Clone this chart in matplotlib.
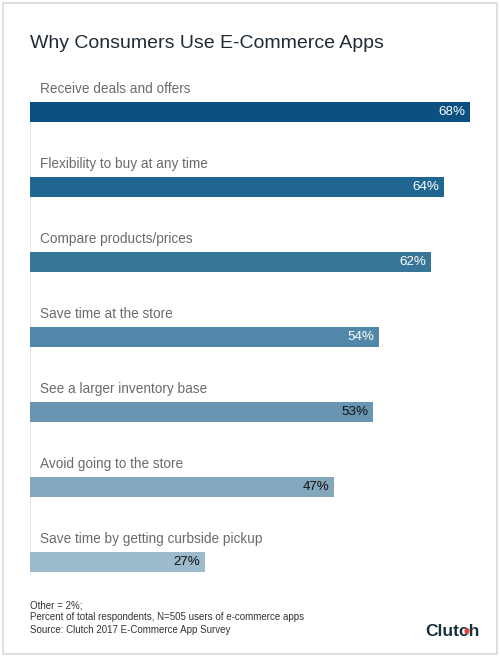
import matplotlib
matplotlib.use("Agg")
import matplotlib.pyplot as plt
from matplotlib.patches import Rectangle, Circle

plt.rcParams['font.family'] = ['Liberation Sans', 'DejaVu Sans']

# data
reasons = ['Receive deals and offers', 'Flexibility to buy at any time',
           'Compare products/prices', 'Save time at the store',
           'See a larger inventory base', 'Avoid going to the store',
           'Save time by getting curbside pickup']
shares = [68, 64, 62, 54, 53, 47, 27]

bar_colors = ['#0a5080', '#1f6690', '#387699', '#5188a9', '#6895b2', '#83a7bd', '#9cbccd']
value_colors = ['white', 'white', 'white', 'white', '#111111', '#111111', '#111111']

W, H = 500, 657
fig = plt.figure(figsize=(W / 100, H / 100), dpi=100)

# axes: x from 30px to 470px (0..68), rows spaced 75px starting at 112px
top_px, bot_px = 74.5, 599.5
ax = fig.add_axes([30 / W, 1 - bot_px / H, 440 / W, (bot_px - top_px) / H])
ax.set_xlim(0, 68)
ax.set_ylim(len(reasons) - 0.5, -0.5)
ax.axis('off')

bh = 20 / 75
pos = list(range(len(reasons)))
ax.barh(pos, shares, height=bh, color=bar_colors, edgecolor='none')
ax.axvline(0, ymin=0.048, ymax=0.948, color='#e3e3e3', lw=1.2, zorder=0)

for i, (name, v) in enumerate(zip(reasons, shares)):
    ax.annotate(name, xy=(0, i - bh / 2), xytext=(7.2, 6.5), textcoords='offset points',
                ha='left', va='baseline', fontsize=9.8, color='#6b6b6b')
    ax.annotate('%d%%' % v, xy=(v, i), xytext=(-3.6, 0), textcoords='offset points',
                ha='right', va='center', fontsize=9.6, color=value_colors[i])

fig.text(30 / W, 1 - 48 / H, 'Why Consumers Use E-Commerce Apps', fontsize=14,
         color='#1f2b36', ha='left', va='baseline')

notes = ['Other = 2%;', 'Percent of total respondents, N=505 users of e-commerce apps',
         'Source: Clutch 2017 E-Commerce App Survey']
for k, line in enumerate(notes):
    fig.text(30 / W, 1 - (608 + 12.5 * k) / H, line, fontsize=7.0, color='#333333',
             ha='left', va='baseline')

fig.text(480 / W, 1 - 636 / H, 'Clutch', fontsize=12.5, fontweight='bold', color='#17313b',
         ha='right', va='baseline')
fig.patches.append(Circle((467 / W, 1 - 631 / H), 1.8 / W, transform=fig.transFigure,
                          color='#e0443a', zorder=5))

# light frame around the whole graphic
fig.patches.append(Rectangle((3 / W, 3 / H), 494 / W, 651 / H, transform=fig.transFigure,
                             fill=False, edgecolor='#d9d9d9', lw=1.2))

fig.savefig('out.png', dpi=100)
